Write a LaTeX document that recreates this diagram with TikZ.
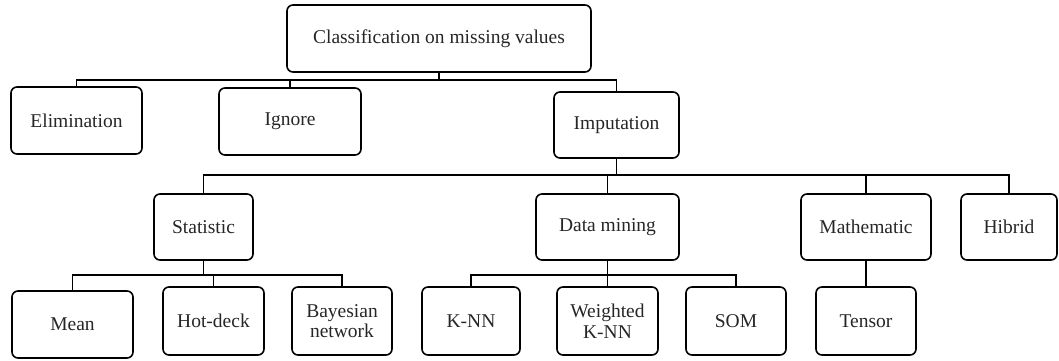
\documentclass[tikz,border=0pt]{standalone}
\usepackage{fontspec}
\setmainfont{Liberation Serif}
\begin{document}
\begin{tikzpicture}[x=1pt,y=-1pt,
  box/.style={draw=black, rounded corners=6pt, line width=1.6pt, align=center, inner sep=0pt,
    font=\fontsize{19.5}{20.5}\selectfont, text=black!85},
  conn/.style={draw=black, line width=1.3pt}]
\useasboundingbox (0,0) rectangle (1059,361);
% level 0
\node[box, minimum width=304pt, minimum height=67pt] (root) at (439,38.5) {Classification on missing values};
% level 1
\node[box, minimum width=131pt, minimum height=67pt] (elim) at (76.5,120.5) {Elimination};
\node[box, minimum width=142pt, minimum height=67pt] (ignore) at (290,121.5) {Ignore};
\node[box, minimum width=125pt, minimum height=66pt] (imput) at (616.5,125) {Imputation};
% level 2
\node[box, minimum width=99pt, minimum height=66pt] (stat) at (203.5,227) {Statistic};
\node[box, minimum width=143pt, minimum height=66pt] (dm) at (607.5,227) {Data mining};
\node[box, minimum width=130pt, minimum height=66pt] (math) at (866,227) {Mathematic};
\node[box, minimum width=96pt, minimum height=66pt] (hib) at (1009,227) {Hibrid};
% level 3
\node[box, minimum width=121pt, minimum height=67pt] (mean) at (72.5,324.5) {Mean};
\node[box, minimum width=101pt, minimum height=68pt] (hot) at (213.5,321) {Hot-deck};
\node[box, minimum width=100pt, minimum height=68pt] (bayes) at (342,321) {Bayesian\\network};
\node[box, minimum width=98pt, minimum height=68pt] (knn) at (471,321) {K-NN};
\node[box, minimum width=101pt, minimum height=68pt] (wknn) at (607.5,321) {Weighted\\K-NN};
\node[box, minimum width=100pt, minimum height=68pt] (som) at (736,321) {SOM};
\node[box, minimum width=100pt, minimum height=68pt] (tensor) at (866,321) {Tensor};
% buses
\coordinate (b1) at (0,80);
\coordinate (b2) at (0,175);
\coordinate (b3) at (0,275);
% level 0 -> 1
\draw[conn] (root.south) -- (root.south |- b1);
\draw[conn] (elim.north) -- (elim.north |- b1) -- (imput.north |- b1) -- (imput.north);
\draw[conn] (ignore.north) -- (ignore.north |- b1);
% imputation -> level 2
\draw[conn] (imput.south) -- (imput.south |- b2);
\draw[conn] (stat.north) -- (stat.north |- b2) -- (hib.north |- b2) -- (hib.north);
\draw[conn] (dm.north) -- (dm.north |- b2);
\draw[conn] (math.north) -- (math.north |- b2);
% statistic -> level 3
\draw[conn] (stat.south) -- (stat.south |- b3);
\draw[conn] (mean.north) -- (mean.north |- b3) -- (bayes.north |- b3) -- (bayes.north);
\draw[conn] (hot.north) -- (hot.north |- b3);
% data mining -> level 3
\draw[conn] (dm.south) -- (dm.south |- b3);
\draw[conn] (knn.north) -- (knn.north |- b3) -- (som.north |- b3) -- (som.north);
\draw[conn] (wknn.north) -- (wknn.north |- b3);
% mathematic -> tensor
\draw[conn] (math.south) -- (tensor.north);
\end{tikzpicture}
\end{document}
